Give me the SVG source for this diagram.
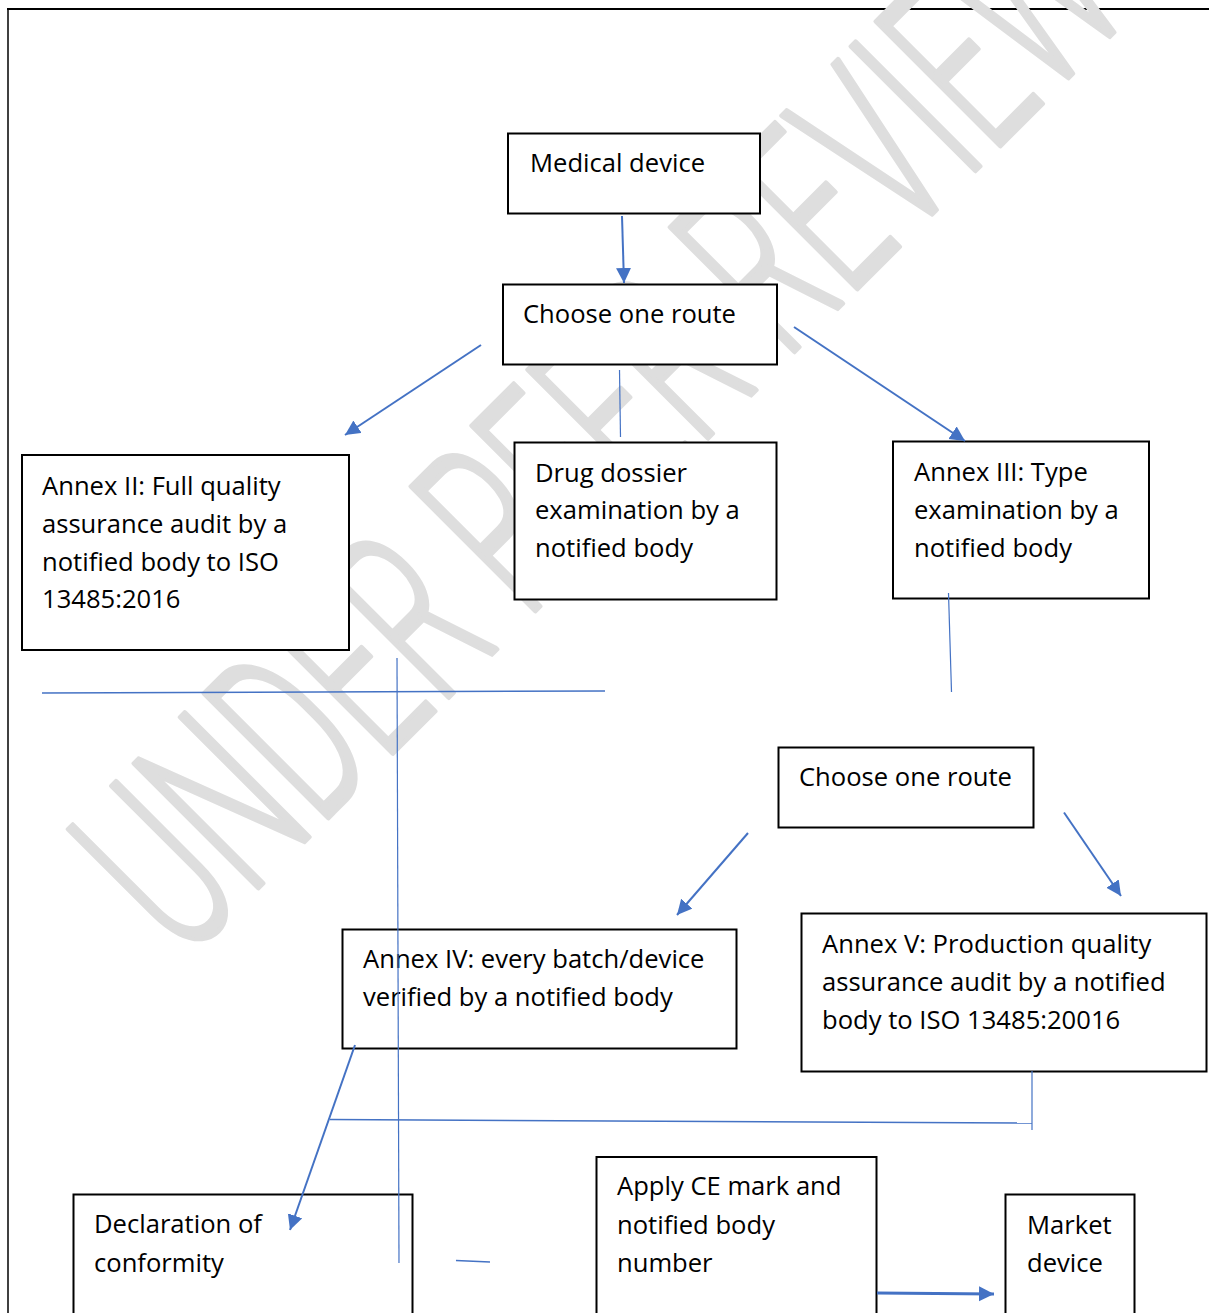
<svg xmlns="http://www.w3.org/2000/svg" width="1209" height="1313" viewBox="0 0 1209 1313">
<style>
.box{fill:#fff;stroke:#000;stroke-width:2}
.t{font-family:"Open Sans","Liberation Sans",sans-serif;font-size:25.6px;fill:#000}
.c{stroke:#4472C4;fill:none}
.a{stroke-width:2;marker-end:url(#ah)}
.thin{stroke-width:1.2}
.wm{font-family:Roboto,"Liberation Sans",sans-serif;font-weight:300;font-size:247px;fill:#dedede;stroke:#dedede;stroke-width:5;stroke-linejoin:round}
</style>
<defs>
<marker id="ah" markerUnits="userSpaceOnUse" markerWidth="16" markerHeight="16" refX="15" refY="7.5" orient="auto">
<path d="M0,0 L15,7.5 L0,15 Z" fill="#4472C4"/>
</marker>
<marker id="ah2" markerUnits="userSpaceOnUse" markerWidth="16" markerHeight="16" refX="15" refY="7.5" orient="auto">
<path d="M0,0 L15,7.5 L0,15 Z" fill="#4472C4"/>
</marker>
</defs>
<rect width="1209" height="1313" fill="#fff"/>
<g id="frame" fill="none" stroke="#000">
<line x1="7" y1="9" x2="1209" y2="9" stroke-width="2"/>
<line x1="8" y1="8" x2="8" y2="1313" stroke-width="1.5"/>
</g>
<text class="wm" transform="translate(184,962) rotate(-45)" textLength="1345" lengthAdjust="spacingAndGlyphs">UNDER PEER REVIEW</text>
<g id="n-medical"><rect class="box" x="508" y="133.5" width="252" height="80"/><text class="t" x="530" y="172">Medical device</text></g>
<g id="n-choose1"><rect class="box" x="503" y="284.5" width="274" height="80"/><text class="t" x="523" y="323">Choose one route</text></g>
<g id="n-annex2"><rect class="box" x="22" y="455" width="327" height="195"/><text class="t"><tspan x="42" y="495">Annex II: Full quality</tspan><tspan x="42" y="533">assurance audit by a</tspan><tspan x="42" y="571">notified body to ISO</tspan><tspan x="42" y="608">13485:2016</tspan></text></g>
<g id="n-drug"><rect class="box" x="514.5" y="442.5" width="262" height="157"/><text class="t"><tspan x="535" y="482">Drug dossier</tspan><tspan x="535" y="519">examination by a</tspan><tspan x="535" y="557">notified body</tspan></text></g>
<g id="n-annex3"><rect class="box" x="893" y="441.5" width="256" height="157"/><text class="t"><tspan x="914" y="481">Annex III: Type</tspan><tspan x="914" y="519">examination by a</tspan><tspan x="914" y="557">notified body</tspan></text></g>
<g id="n-choose2"><rect class="box" x="778.5" y="747.5" width="255" height="80"/><text class="t" x="799" y="786">Choose one route</text></g>
<g id="n-annex4"><rect class="box" x="342.5" y="929.5" width="394" height="119"/><text class="t"><tspan x="363" y="968">Annex IV: every batch/device</tspan><tspan x="363" y="1006">verified by a notified body</tspan></text></g>
<g id="n-annex5"><rect class="box" x="801.5" y="913.5" width="405" height="158"/><text class="t"><tspan x="822" y="953">Annex V: Production quality</tspan><tspan x="822" y="991">assurance audit by a notified</tspan><tspan x="822" y="1029">body to ISO 13485:20016</tspan></text></g>
<g id="n-declaration"><rect class="box" x="73.5" y="1194.5" width="339" height="130"/><text class="t"><tspan x="94" y="1233">Declaration of</tspan><tspan x="94" y="1272">conformity</tspan></text></g>
<g id="n-apply"><rect class="box" x="596.5" y="1157" width="280" height="170"/><text class="t"><tspan x="617" y="1195">Apply CE mark and</tspan><tspan x="617" y="1234">notified body</tspan><tspan x="617" y="1272">number</tspan></text></g>
<g id="n-market"><rect class="box" x="1005.5" y="1194.5" width="129" height="130"/><text class="t"><tspan x="1027" y="1234">Market</tspan><tspan x="1027" y="1272">device</tspan></text></g>
<g id="connectors">
<line class="c a" x1="622" y1="216" x2="624" y2="283"/>
<line class="c a" x1="481" y1="345" x2="345" y2="435"/>
<line class="c a" x1="794" y1="327" x2="965" y2="441"/>
<line class="c a" x1="748" y1="833" x2="677" y2="915"/>
<line class="c a" x1="1064" y1="812.5" x2="1121" y2="896"/>
<line class="c a" x1="355" y1="1045" x2="290" y2="1230"/>
<line class="c" x1="877" y1="1293" x2="994" y2="1294" stroke-width="3" marker-end="url(#ah2)"/>
<line class="c thin" x1="619.5" y1="370" x2="620.5" y2="437"/>
<line class="c thin" x1="948.5" y1="593" x2="951.5" y2="692"/>
<line class="c" stroke-width="1.5" x1="42" y1="693" x2="605" y2="691"/>
<line class="c thin" x1="397" y1="658" x2="399" y2="1263"/>
<line class="c" stroke-width="1.5" x1="330" y1="1119.5" x2="1032" y2="1123"/>
<line class="c thin" x1="1032" y1="1071" x2="1032" y2="1130"/>
<line class="c" stroke-width="1.5" x1="456" y1="1260.5" x2="490" y2="1262"/>
</g>
</svg>
